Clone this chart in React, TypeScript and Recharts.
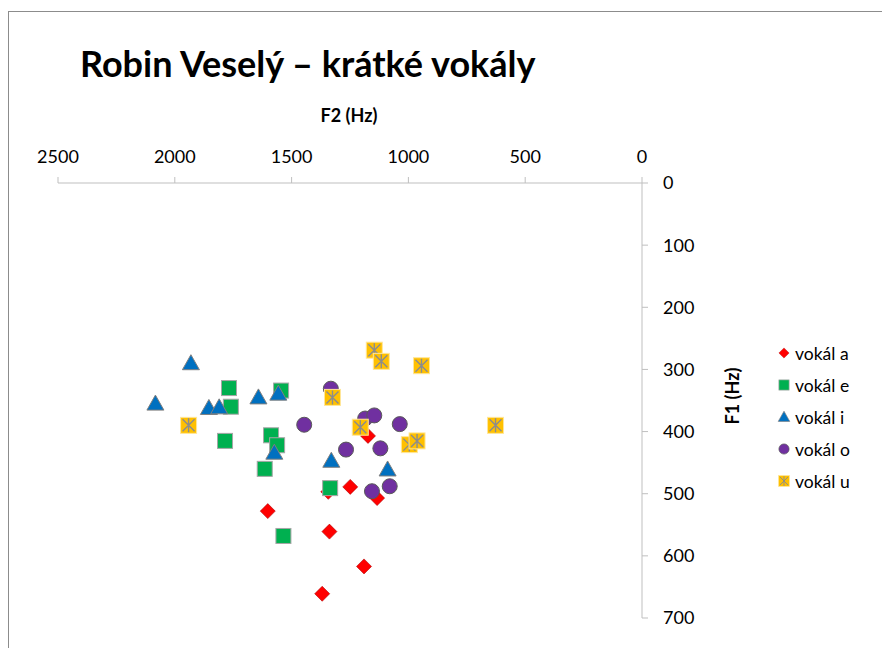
import React from 'react';
import { ScatterChart, Scatter, XAxis, YAxis } from 'recharts';

// F2 / F1 formant values (Hz) per vowel
const aF2 = [1343, 1249, 1134, 1602, 1338, 1190, 1369, 1173];
const aF1 = [497, 489, 507, 528, 561, 617, 661, 407];

const eF2 = [1768, 1760, 1545, 1785, 1588, 1562, 1615, 1335, 1535];
const eF1 = [330, 360, 334, 415, 406, 422, 460, 491, 568];

const iF2 = [1931, 2083, 1854, 1810, 1642, 1557, 1574, 1330, 1089];
const iF1 = [290, 355, 362, 361, 345, 339, 434, 447, 461];

const oF2 = [1332, 1446, 1185, 1146, 1037, 1267, 1120, 1156, 1080];
const oF1 = [331, 389, 379, 374, 388, 429, 427, 496, 488];

const uF2 = [1146, 1116, 944, 1325, 1206, 996, 963, 1941, 627];
const uF1 = [269, 287, 294, 345, 393, 421, 415, 390, 390];

const xTicks = [0, 500, 1000, 1500, 2000, 2500];
const yTicks = [0, 100, 200, 300, 400, 500, 600, 700];

const toPoints = (f2: number[], f1: number[]) => f2.map((v, i) => ({ f2: v, f1: f1[i] }));

const FONT = 'Lato, "Open Sans", sans-serif';
const AXIS = '#bfbfbf';

const Diamond = ({ cx, cy }: any) => (
  <path
    d={`M${cx},${cy - 7.5}L${cx + 7.5},${cy}L${cx},${cy + 7.5}L${cx - 7.5},${cy}Z`}
    fill="#FF0000"
    stroke="#b00000"
    strokeWidth={0.6}
  />
);

const Square = ({ cx, cy }: any) => (
  <rect x={cx - 7.5} y={cy - 7.5} width={15} height={15} fill="#00B050" stroke="#a6a6a6" strokeWidth={1} />
);

const Triangle = ({ cx, cy }: any) => (
  <path
    d={`M${cx},${cy - 8.5}L${cx + 8.5},${cy + 6.5}L${cx - 8.5},${cy + 6.5}Z`}
    fill="#0070C0"
    stroke="#7f7f7f"
    strokeWidth={1}
  />
);

const Circle = ({ cx, cy }: any) => (
  <circle cx={cx} cy={cy} r={7.5} fill="#7030A0" stroke="#595959" strokeWidth={1} />
);

const Star = ({ cx, cy }: any) => (
  <g>
    <rect x={cx - 8} y={cy - 8} width={16} height={16} fill="#FFC000" stroke="#ffe699" strokeWidth={1} />
    <path
      d={`M${cx},${cy - 7}L${cx},${cy + 7}M${cx - 6},${cy - 6}L${cx + 6},${cy + 6}M${cx + 6},${cy - 6}L${cx - 6},${cy + 6}`}
      stroke="#8c8c8c"
      strokeWidth={1.4}
    />
  </g>
);

const legendItems = [
  { name: 'vokál a', shape: Diamond },
  { name: 'vokál e', shape: Square },
  { name: 'vokál i', shape: Triangle },
  { name: 'vokál o', shape: Circle },
  { name: 'vokál u', shape: Star },
];

export default function App() {
  return (
    <div style={{ position: 'absolute', left: 0, top: 0, width: 882, height: 648, background: '#fff', fontFamily: FONT }}>
      <div style={{ position: 'absolute', left: 8, top: 11, right: 0, bottom: 0, borderTop: '1.5px solid #8c8c8c', borderLeft: '1.5px solid #8c8c8c' }} />

      <div style={{ position: 'absolute', left: 80, top: 41, fontSize: 36, fontWeight: 700, color: '#000', whiteSpace: 'nowrap' }}>
        Robin Veselý – krátké vokály
      </div>

      <div style={{ position: 'absolute', left: 294, width: 110, top: 104, textAlign: 'center', fontSize: 18, fontWeight: 700 }}>
        F2 (Hz)
      </div>

      <div
        style={{
          position: 'absolute',
          left: 677,
          top: 385,
          width: 110,
          textAlign: 'center',
          fontSize: 18,
          fontWeight: 700,
          transform: 'rotate(-90deg)',
        }}
      >
        F1 (Hz)
      </div>

      <div style={{ position: 'absolute', left: 0, top: 0 }}>
        <ScatterChart width={882} height={648} margin={{ top: 153, right: 180, bottom: 30, left: 58 }}>
          <XAxis
            type="number"
            dataKey="f2"
            orientation="top"
            reversed
            domain={[0, 2500]}
            ticks={xTicks}
            height={30}
            stroke={AXIS}
            tickSize={6}
            tickMargin={14}
            tick={{ fill: '#000', fontSize: 18, fontFamily: FONT }}
          />
          <YAxis
            type="number"
            dataKey="f1"
            orientation="right"
            reversed
            domain={[0, 700]}
            ticks={yTicks}
            width={60}
            stroke={AXIS}
            tickSize={6}
            tickMargin={15}
            tick={{ fill: '#000', fontSize: 18, fontFamily: FONT }}
          />
          <Scatter name="vokál a" data={toPoints(aF2, aF1)} shape={Diamond} isAnimationActive={false} />
          <Scatter name="vokál e" data={toPoints(eF2, eF1)} shape={Square} isAnimationActive={false} />
          <Scatter name="vokál i" data={toPoints(iF2, iF1)} shape={Triangle} isAnimationActive={false} />
          <Scatter name="vokál o" data={toPoints(oF2, oF1)} shape={Circle} isAnimationActive={false} />
          <Scatter name="vokál u" data={toPoints(uF2, uF1)} shape={Star} isAnimationActive={false} />
        </ScatterChart>
      </div>

      <div style={{ position: 'absolute', left: 776, top: 337 }}>
        {legendItems.map((it) => {
          const Shape = it.shape;
          return (
            <div key={it.name} style={{ display: 'flex', alignItems: 'center', height: 32, fontSize: 17.5 }}>
              <svg width={16} height={16} style={{ marginRight: 3 }}>
                <g transform="translate(8,8) scale(0.68) translate(-8,-8)">
                  <Shape cx={8} cy={8} />
                </g>
              </svg>
              <span>{it.name}</span>
            </div>
          );
        })}
      </div>
    </div>
  );
}
